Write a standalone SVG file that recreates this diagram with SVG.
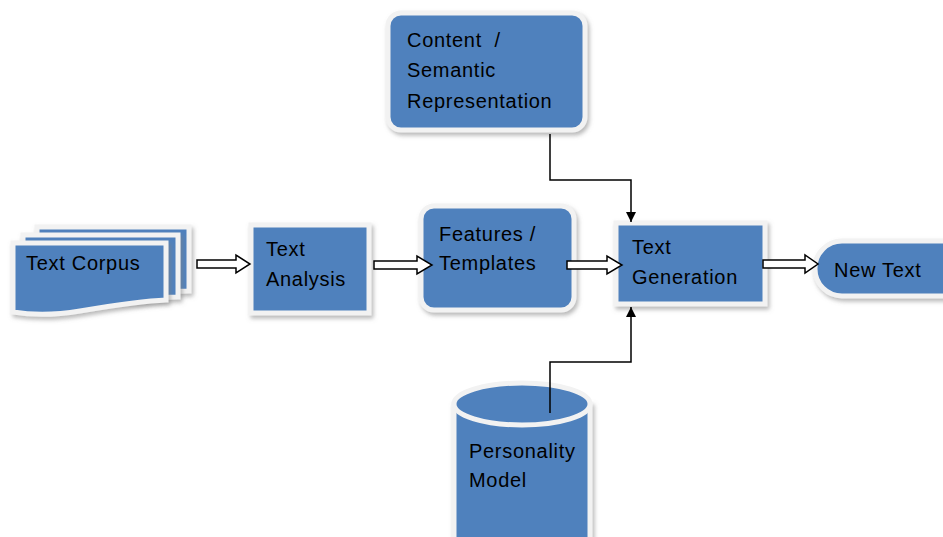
<svg xmlns="http://www.w3.org/2000/svg" width="943" height="537" viewBox="0 0 943 537">
  <defs>
    <filter id="shadow" x="-10%" y="-10%" width="130%" height="130%">
      <feDropShadow dx="2" dy="3" stdDeviation="2" flood-color="#7f7f7f" flood-opacity="0.55"/>
    </filter>
    <marker id="head" viewBox="0 0 10 10" refX="10" refY="5" markerWidth="10" markerHeight="10" markerUnits="userSpaceOnUse" orient="auto">
      <path d="M0,0 L10,5 L0,10 Z" fill="#000"/>
    </marker>
  </defs>
  <style>
    .box { fill: #4f81bd; stroke: #f2f2f2; stroke-width: 5; filter: url(#shadow); }
    .lbl { font-family: "Liberation Sans", Arial, sans-serif; font-size: 20px; letter-spacing: 0.7px; fill: #000; }
    .block { fill: #fff; stroke: #000; stroke-width: 1.5; stroke-linejoin: miter; }
    .link { fill: none; stroke: #000; stroke-width: 1.5; marker-end: url(#head); }
  </style>

  <rect width="943" height="537" fill="#fff"/>

  <!-- stacked documents -->
  <g id="text-corpus">
    <path class="box" d="M37,227 H189 V291 C175,291 165,292 150,294 L37,294 Z"/>
    <path class="box" d="M23,235 H178 V297 C165,297 155,298 140,300 L23,300 Z"/>
    <path class="box" d="M13,243 H166 V300 C140,301 110,306 80,311 C50,316 25,314 13,312 Z"/>
    <text class="lbl" x="26" y="270">Text Corpus</text>
  </g>

  <g id="text-analysis">
    <rect class="box" x="251" y="225" width="118" height="88"/>
    <text class="lbl" x="266" y="256">Text</text>
    <text class="lbl" x="266" y="286">Analysis</text>
  </g>

  <g id="features-templates">
    <rect class="box" x="421" y="206" width="153" height="104" rx="13"/>
    <text class="lbl" x="439" y="241">Features /</text>
    <text class="lbl" x="439" y="270">Templates</text>
  </g>

  <g id="content-semantic">
    <rect class="box" x="388" y="13" width="197" height="117" rx="13"/>
    <text class="lbl" x="407" y="47" xml:space="preserve">Content  /</text>
    <text class="lbl" x="407" y="77">Semantic</text>
    <text class="lbl" x="407" y="108">Representation</text>
  </g>

  <g id="text-generation">
    <rect class="box" x="616" y="223" width="149" height="81"/>
    <text class="lbl" x="632" y="254">Text</text>
    <text class="lbl" x="632" y="284">Generation</text>
  </g>

  <g id="new-text">
    <rect class="box" x="815" y="241" width="160" height="55" rx="27"/>
    <text class="lbl" x="834" y="277">New Text</text>
  </g>

  <g id="personality-model">
    <path class="box" d="M454,404 V560 H590 V404 Z"/>
    <ellipse cx="522" cy="404" rx="68" ry="21" fill="#4f81bd" stroke="#f2f2f2" stroke-width="5"/>
    <text class="lbl" x="469" y="458">Personality</text>
    <text class="lbl" x="469" y="487">Model</text>
  </g>

  <!-- connectors -->
  <g id="connectors">
    <polygon class="block" points="197,260 236,260 236,255 250,264 236,273 236,268 197,268"/>
    <polygon class="block" points="374,261 417,261 417,256 432,265 417,274 417,269 374,269"/>
    <polygon class="block" points="567,261 607,261 607,256 622,265 607,274 607,269 567,269"/>
    <polygon class="block" points="763,260 805,260 805,255 818,264 805,273 805,268 763,268"/>
    <path class="link" d="M550,134 V180 H631 V222"/>
    <path class="link" d="M550,413 V362 H631 V307"/>
  </g>
</svg>
